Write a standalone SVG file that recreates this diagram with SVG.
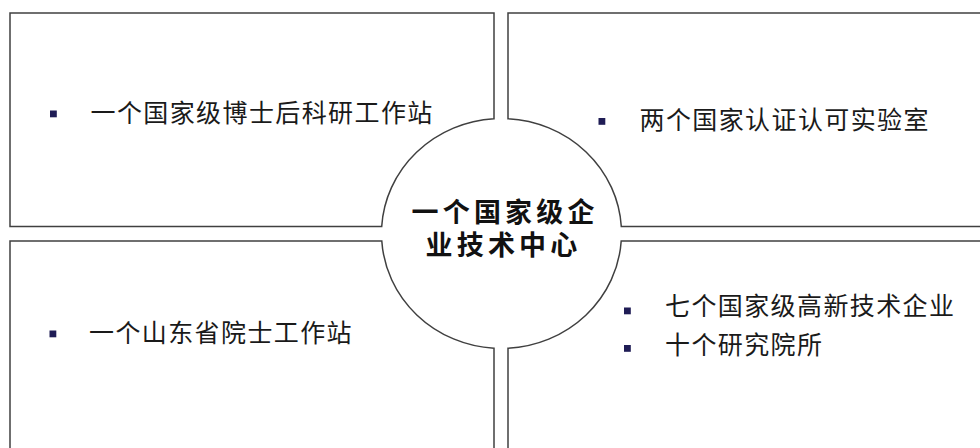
<svg xmlns="http://www.w3.org/2000/svg" width="980" height="448" viewBox="0 0 980 448">
<style>
.box{fill:#fff;stroke:#404040;stroke-width:1.5}
.t{font-family:"Noto Sans CJK SC","Liberation Sans",sans-serif;font-size:25px;letter-spacing:1.4px;fill:#1a1a1a}
.c{font-family:"Liberation Sans","Noto Sans CJK SC",sans-serif;font-size:27px;font-weight:bold;letter-spacing:4.2px;fill:#111}
.b{fill:#1f1c55}
</style>
<rect width="980" height="448" fill="#fff"/>
<g id="n-tl">
<path class="box" d="M10,13 H494 V118.7 A120,115 0 0 0 381.7,226.5 H10 Z"/>
<rect class="b" x="50" y="110.5" width="6.8" height="6.8"/>
<text class="t" x="90.5" y="122">一个国家级博士后科研工作站</text>
</g>
<g id="n-tr">
<path class="box" d="M508,13 H992 V226.5 H621.3 A120,115 0 0 0 508,118.7 Z"/>
<rect class="b" x="598.5" y="118" width="6.8" height="6.8"/>
<text class="t" x="639.5" y="129">两个国家认证认可实验室</text>
</g>
<g id="n-bl">
<path class="box" d="M10,241 H381.8 A120,115 0 0 0 494,348.3 V460 H10 Z"/>
<rect class="b" x="49.5" y="330.5" width="6.8" height="6.8"/>
<text class="t" x="89" y="342">一个山东省院士工作站</text>
</g>
<g id="n-br">
<path class="box" d="M992,241 H621.2 A120,115 0 0 1 508,348.3 V460 H992 Z"/>
<rect class="b" x="624" y="307.5" width="6.8" height="6.8"/>
<text class="t" x="665" y="315.3">七个国家级高新技术企业</text>
<rect class="b" x="624" y="345" width="6.8" height="6.8"/>
<text class="t" x="665" y="354">十个研究院所</text>
</g>
<g id="n-center">
<text class="c"><tspan x="411.5" y="221.6">一个国家级企</tspan><tspan x="425.5" y="255.3">业技术中心</tspan></text>
</g>
<g id="connectors"></g>
</svg>
